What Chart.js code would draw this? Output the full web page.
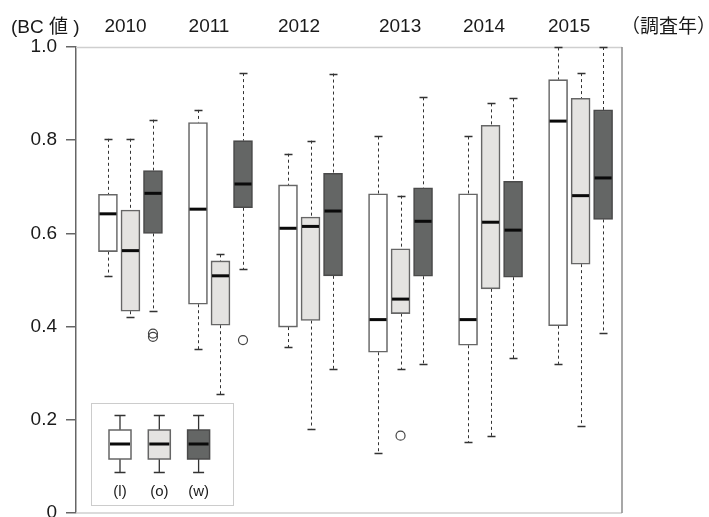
<!DOCTYPE html>
<html>
<head>
<meta charset="utf-8">
<script src="https://cdn.jsdelivr.net/npm/chart.js@4.4.1/dist/chart.umd.min.js"></script>
<style>
  html, body { margin: 0; padding: 0; background: #fff; }
  #wrap { width: 709px; height: 517px; }
</style>
</head>
<body>
<div id="wrap"><canvas id="chart" width="709" height="517"></canvas></div>
<script>
var years = ["2010", "2011", "2012", "2013", "2014", "2015"];
var seriesNames = ["(l)", "(o)", "(w)"];

// [min, q1, median, q3, max] for each year
var boxL = [
  [0.509, 0.561, 0.642, 0.684, 0.803],
  [0.352, 0.448, 0.652, 0.838, 0.865],
  [0.356, 0.399, 0.611, 0.704, 0.771],
  [0.128, 0.345, 0.415, 0.685, 0.808],
  [0.152, 0.360, 0.415, 0.685, 0.808],
  [0.320, 0.402, 0.841, 0.930, 0.999]
];
var boxO = [
  [0.421, 0.433, 0.563, 0.650, 0.803],
  [0.255, 0.403, 0.509, 0.541, 0.555],
  [0.181, 0.413, 0.615, 0.635, 0.799],
  [0.308, 0.428, 0.459, 0.567, 0.681],
  [0.165, 0.481, 0.624, 0.832, 0.879],
  [0.187, 0.534, 0.681, 0.890, 0.944]
];
var boxW = [
  [0.433, 0.600, 0.686, 0.735, 0.844],
  [0.523, 0.655, 0.706, 0.799, 0.944],
  [0.308, 0.509, 0.648, 0.729, 0.943],
  [0.320, 0.508, 0.626, 0.698, 0.892],
  [0.332, 0.506, 0.607, 0.712, 0.890],
  [0.387, 0.630, 0.719, 0.865, 1.000]
];
var outL = [[], [], [], [], [], []];
var outO = [[], [], [], [0.166], [], []];
var outW = [[0.385, 0.378], [0.371], [], [], [], []];

var yTicks = [0, 0.2, 0.4, 0.6, 0.8, 1.0];

// where the year labels sit along the slot axis
var yearLabelSlot = [1.78, 5.49, 9.49, 13.98, 17.71, 21.49];

var boxes = [boxL, boxO, boxW];
var outliers = [outL, outO, outW];
var fills = ["#ffffff", "#e4e3e1", "#646665"];
var edges = ["#666666", "#666666", "#4a4a4a"];
var FONT = '"Liberation Sans", "Noto Sans CJK JP", sans-serif';

function slotOf(yearIdx, serIdx) {
  return yearIdx * 4 + serIdx + 1;
}

var datasets = boxes.map(function (b, s) {
  return {
    label: seriesNames[s],
    data: b.map(function (v, i) { return { x: slotOf(i, s), y: [v[1], v[3]] }; }),
    backgroundColor: fills[s],
    borderColor: edges[s],
    borderWidth: 1.6,
    borderSkipped: false,
    barThickness: 19,
    grouped: false
  };
});

var boxParts = {
  id: "boxParts",
  beforeDatasetsDraw: function (chart) {
    var ctx = chart.ctx, a = chart.chartArea, ys = chart.scales.y;
    ctx.save();
    // frame
    ctx.lineWidth = 1.5;
    ctx.strokeStyle = "#cfcfcf";
    ctx.beginPath();
    ctx.moveTo(a.left, a.top + 0.5); ctx.lineTo(a.right, a.top + 0.5);
    ctx.moveTo(a.left, a.bottom); ctx.lineTo(a.right, a.bottom);
    ctx.stroke();
    ctx.strokeStyle = "#8a8a8a";
    ctx.beginPath();
    ctx.moveTo(a.right, a.top); ctx.lineTo(a.right, a.bottom);
    ctx.stroke();
    // whiskers
    boxes.forEach(function (b, s) {
      var meta = chart.getDatasetMeta(s);
      b.forEach(function (v, i) {
        var x = Math.round(meta.data[i].x) + 0.5;
        ctx.strokeStyle = "#333";
        ctx.lineWidth = 1;
        ctx.setLineDash([3, 3]);
        ctx.beginPath();
        ctx.moveTo(x, ys.getPixelForValue(v[4])); ctx.lineTo(x, ys.getPixelForValue(v[3]));
        ctx.moveTo(x, ys.getPixelForValue(v[1])); ctx.lineTo(x, ys.getPixelForValue(v[0]));
        ctx.stroke();
        ctx.setLineDash([]);
        ctx.lineWidth = 1.3;
        ctx.beginPath();
        [v[0], v[4]].forEach(function (w) {
          var yy = Math.round(ys.getPixelForValue(w)) + 0.5;
          ctx.moveTo(x - 4, yy); ctx.lineTo(x + 4, yy);
        });
        ctx.stroke();
      });
    });
    ctx.restore();
  },
  afterDatasetsDraw: function (chart) {
    var ctx = chart.ctx, ys = chart.scales.y;
    ctx.save();
    boxes.forEach(function (b, s) {
      var meta = chart.getDatasetMeta(s);
      b.forEach(function (v, i) {
        var bar = meta.data[i];
        var yy = ys.getPixelForValue(v[2]);
        ctx.strokeStyle = "#0a0a0a";
        ctx.lineWidth = 3;
        ctx.beginPath();
        ctx.moveTo(bar.x - bar.width / 2 + 1, yy); ctx.lineTo(bar.x + bar.width / 2 - 1, yy);
        ctx.stroke();
        outliers[s][i].forEach(function (o) {
          ctx.strokeStyle = "#444";
          ctx.lineWidth = 1.2;
          ctx.beginPath();
          ctx.arc(bar.x, ys.getPixelForValue(o), 4.5, 0, Math.PI * 2);
          ctx.stroke();
        });
      });
    });

    // legend panel
    ctx.strokeStyle = "#cccccc";
    ctx.lineWidth = 1;
    ctx.strokeRect(91.5, 403.5, 142, 102);
    seriesNames.forEach(function (name, s) {
      var cx = 120 + s * 39.3;
      ctx.strokeStyle = "#333";
      ctx.lineWidth = 1.3;
      ctx.beginPath();
      ctx.moveTo(cx, 415); ctx.lineTo(cx, 430);
      ctx.moveTo(cx, 459); ctx.lineTo(cx, 473);
      ctx.moveTo(cx - 5.5, 415.5); ctx.lineTo(cx + 5.5, 415.5);
      ctx.moveTo(cx - 5.5, 472.5); ctx.lineTo(cx + 5.5, 472.5);
      ctx.stroke();
      ctx.fillStyle = fills[s];
      ctx.fillRect(cx - 11, 430, 22, 29);
      ctx.strokeStyle = edges[s];
      ctx.lineWidth = 1.5;
      ctx.strokeRect(cx - 11, 430, 22, 29);
      ctx.strokeStyle = "#0a0a0a";
      ctx.lineWidth = 3;
      ctx.beginPath();
      ctx.moveTo(cx - 10, 444); ctx.lineTo(cx + 10, 444);
      ctx.stroke();
      ctx.fillStyle = "#1a1a1a";
      ctx.font = "15px " + FONT;
      ctx.textAlign = "center";
      ctx.textBaseline = "middle";
      ctx.fillText(name, cx, 492);
    });

    // axis captions
    ctx.fillStyle = "#1a1a1a";
    ctx.font = "19px " + FONT;
    ctx.textAlign = "left";
    ctx.textBaseline = "alphabetic";
    ctx.fillText("(BC 値 )", 11, 33);
    ctx.fillText("（調査年）", 621, 33);
    ctx.restore();
  }
};

Chart.defaults.font.family = FONT;

new Chart(document.getElementById("chart"), {
  type: "bar",
  data: { datasets: datasets },
  plugins: [boxParts],
  options: {
    responsive: false,
    animation: false,
    layout: { padding: { top: 0, left: 0, right: 87, bottom: 4 } },
    plugins: { legend: { display: false }, tooltip: { enabled: false } },
    scales: {
      x: {
        type: "linear",
        position: "top",
        offset: false,
        min: -0.42,
        max: 23.84,
        grid: { display: false, drawTicks: false, offset: false },
        border: { display: false },
        ticks: {
          autoSkip: false,
          maxRotation: 0,
          padding: 9,
          color: "#1a1a1a",
          font: { size: 19 },
          callback: function (v, i) { return years[i]; }
        },
        afterBuildTicks: function (scale) {
          scale.ticks = yearLabelSlot.map(function (v) { return { value: v }; });
        },
        afterFit: function (scale) {
          scale.height = 47;
          scale.paddingLeft = 0;
          scale.paddingRight = 0;
        }
      },
      y: {
        min: 0,
        max: 1,
        grid: { drawOnChartArea: false, tickLength: 10, color: "#666", lineWidth: 1.5 },
        border: { color: "#666", width: 1.5 },
        ticks: {
          padding: 9,
          color: "#1a1a1a",
          font: { size: 19 },
          callback: function (v) { return v === 0 ? "0" : v.toFixed(1); }
        },
        afterBuildTicks: function (scale) {
          scale.ticks = yTicks.map(function (v) { return { value: v }; });
        },
        afterFit: function (scale) {
          scale.width = 76;
          scale.paddingTop = 0;
          scale.paddingBottom = 0;
        }
      }
    }
  }
});
</script>
</body>
</html>
